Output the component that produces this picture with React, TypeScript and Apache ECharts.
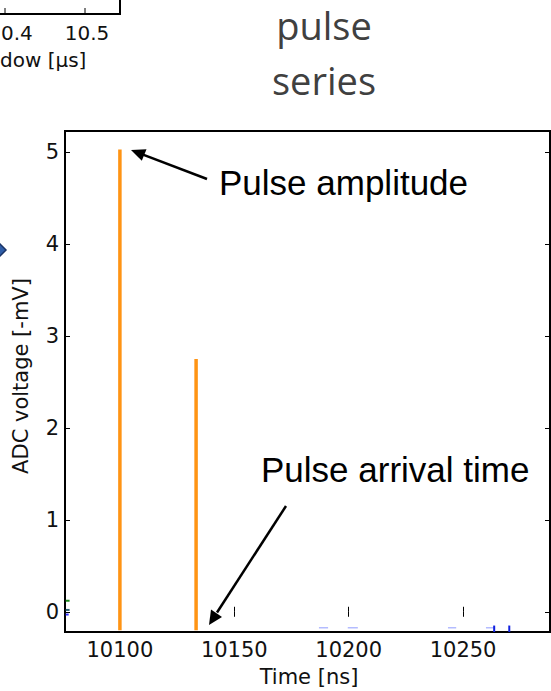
import React, { useEffect, useRef } from "react";
import * as echarts from "echarts";

// ---- data ----
const pulseTimes = [10100, 10133.3];
const pulseAmps = [5.03, 2.75];
const pulseBase = -0.2;
const xTicks = [10100, 10150, 10200, 10250];
const yTicks = [0, 1, 2, 3, 4, 5];
const xRange = [10076, 10288];
const yRange = [-0.22, 5.23];
// tiny traces of other channels near the baseline
const greenTrace = [[10076.3, 0.12], [10078, 0.12]];
const tealTrace = [[10076.3, 0.02], [10078, 0.02]];
const blueTrace = [[10076.3, -0.03], [10077.6, -0.03]];
const faintDashes = [
  [10187, 10191],
  [10199.6, 10204],
  [10243.4, 10247],
  [10260, 10264],
];
const faintLevel = -0.175;
const darkTicks = [10263.6, 10270.2];

const FONT = "DejaVu Sans";

export default function App() {
  const ref = useRef<HTMLDivElement>(null);
  useEffect(() => {
    if (!ref.current) return;
    const chart = echarts.init(ref.current, null, { renderer: "svg" });

    const series: any[] = [];
    pulseTimes.forEach((t, i) => {
      series.push({
        type: "line",
        name: "pulse" + i,
        data: [
          [t, pulseBase],
          [t, pulseAmps[i]],
        ],
        symbol: "none",
        lineStyle: { color: "#ff9414", width: 3.5 },
        xAxisIndex: 0,
        yAxisIndex: 0,
      });
    });
    const addTrace = (d: number[][], color: string, w: number) =>
      series.push({
        type: "line",
        data: d,
        symbol: "none",
        lineStyle: { color, width: w },
        xAxisIndex: 0,
        yAxisIndex: 0,
      });
    addTrace(greenTrace, "#1a8a1a", 2);
    addTrace(tealTrace, "#2a6070", 2);
    addTrace(blueTrace, "#3030ff", 2);
    faintDashes.forEach((d) =>
      addTrace(
        [
          [d[0], faintLevel],
          [d[1], faintLevel],
        ],
        "#b4bcff",
        1.5
      )
    );
    darkTicks.forEach((t) =>
      addTrace(
        [
          [t, -0.15],
          [t, -0.22],
        ],
        "#1020e0",
        2
      )
    );

    const axisCommon = {
      type: "value",
      splitLine: { show: false },
      axisLine: { show: false },
    };
    const tick = (vals: number[]) => ({
      inside: true,
      length: 5,
      customValues: vals,
      lineStyle: { color: "#000", width: 1 },
    });

    chart.setOption({
      animation: false,
      backgroundColor: "#ffffff",
      grid: {
        left: 65,
        right: 1,
        top: 131,
        bottom: 59,
        show: true,
        borderColor: "#000",
        borderWidth: 2,
        backgroundColor: "transparent",
      },
      xAxis: [
        {
          ...axisCommon,
          position: "bottom",
          min: xRange[0],
          max: xRange[1],
          axisTick: tick(xTicks),
          axisLabel: {
            customValues: xTicks,
            formatter: (v: number) => String(v),
            fontFamily: FONT,
            fontSize: 21,
            color: "#111",
            margin: 7,
          },
        },
        {
          ...axisCommon,
          position: "top",
          min: xRange[0],
          max: xRange[1],
          axisTick: tick(xTicks),
          axisLabel: { show: false },
        },
      ],
      yAxis: [
        {
          ...axisCommon,
          position: "left",
          min: yRange[0],
          max: yRange[1],
          axisTick: tick(yTicks),
          axisLabel: {
            customValues: yTicks,
            formatter: (v: number) => String(v),
            fontFamily: FONT,
            fontSize: 21,
            color: "#111",
            margin: 6,
          },
        },
        {
          ...axisCommon,
          position: "right",
          min: yRange[0],
          max: yRange[1],
          axisTick: tick(yTicks),
          axisLabel: { show: false },
        },
      ],
      series,
      graphic: [
        // slide title
        {
          type: "text",
          x: 324,
          y: 25,
          style: {
            text: "pulse",
            fontFamily: "Open Sans",
            fontSize: 38,
            lineHeight: 38,
            fill: "#404040",
            align: "center",
            verticalAlign: "middle",
          },
        },
        {
          type: "text",
          x: 324,
          y: 80,
          style: {
            text: "series",
            fontFamily: "Open Sans",
            fontSize: 38,
            lineHeight: 38,
            fill: "#404040",
            align: "center",
            verticalAlign: "middle",
          },
        },
        // y axis label
        {
          type: "text",
          x: 21,
          y: 376,
          rotation: Math.PI / 2,
          style: {
            text: "ADC voltage [-mV]",
            fontFamily: FONT,
            fontSize: 21,
            fill: "#111",
            align: "center",
            verticalAlign: "middle",
          },
        },
        // x axis label
        {
          type: "text",
          x: 309,
          y: 677,
          style: {
            text: "Time [ns]",
            fontFamily: FONT,
            fontSize: 21,
            fill: "#111",
            align: "center",
            verticalAlign: "middle",
          },
        },
        // annotations
        {
          type: "text",
          x: 219,
          y: 182,
          style: {
            text: "Pulse amplitude",
            fontFamily: "Liberation Sans",
            fontSize: 35,
            fill: "#000",
            align: "left",
            verticalAlign: "middle",
          },
        },
        {
          type: "text",
          x: 261,
          y: 469,
          style: {
            text: "Pulse arrival time",
            fontFamily: "Liberation Sans",
            fontSize: 35,
            fill: "#000",
            align: "left",
            verticalAlign: "middle",
          },
        },
        {
          type: "line",
          shape: { x1: 207, y1: 179, x2: 143, y2: 154.6 },
          style: { stroke: "#000", lineWidth: 2.5 },
        },
        {
          type: "polygon",
          shape: {
            points: [
              [131, 150],
              [146.5, 149.2],
              [141.8, 160.8],
            ],
          },
          style: { fill: "#000" },
        },
        {
          type: "line",
          shape: { x1: 286, y1: 506, x2: 217, y2: 612.5 },
          style: { stroke: "#000", lineWidth: 2.5 },
        },
        {
          type: "polygon",
          shape: {
            points: [
              [209, 625],
              [222, 617],
              [211, 609.5],
            ],
          },
          style: { fill: "#000" },
        },
        // fragments of the neighbouring plot on the slide (top-left)
        {
          type: "polyline",
          shape: {
            points: [
              [0, 14],
              [120, 14],
              [120, 0],
            ],
          },
          style: { stroke: "#000", lineWidth: 2, fill: null },
        },
        {
          type: "line",
          shape: { x1: 5, y1: 14, x2: 5, y2: 8 },
          style: { stroke: "#000", lineWidth: 1 },
        },
        {
          type: "line",
          shape: { x1: 85, y1: 14, x2: 85, y2: 8 },
          style: { stroke: "#000", lineWidth: 1 },
        },
        {
          type: "text",
          x: 1,
          y: 33,
          style: {
            text: "0.4",
            fontFamily: FONT,
            fontSize: 20,
            fill: "#111",
            align: "left",
            verticalAlign: "middle",
          },
        },
        {
          type: "text",
          x: 87,
          y: 33,
          style: {
            text: "10.5",
            fontFamily: FONT,
            fontSize: 20,
            fill: "#111",
            align: "center",
            verticalAlign: "middle",
          },
        },
        {
          type: "text",
          x: 0,
          y: 60,
          style: {
            text: "dow [μs]",
            fontFamily: FONT,
            fontSize: 20,
            fill: "#111",
            align: "left",
            verticalAlign: "middle",
          },
        },
        // tip of a blue arrow from the slide
        {
          type: "polygon",
          shape: {
            points: [
              [-7, 250],
              [0, 244],
              [6, 250],
              [0, 256],
            ],
          },
          style: { fill: "#2f5ea8", stroke: "#1a3366", lineWidth: 1.5 },
        },
      ],
    });
    return () => chart.dispose();
  }, []);
  return <div ref={ref} style={{ width: 551, height: 691, position: "absolute", left: 0, top: 0 }} />;
}
